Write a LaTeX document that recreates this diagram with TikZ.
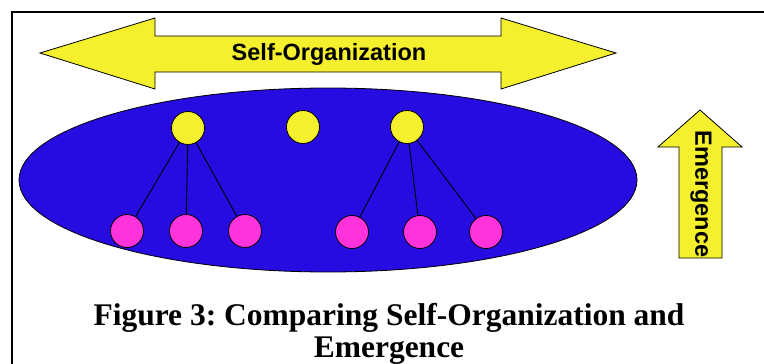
\documentclass[tikz,border=0pt]{standalone}
\usepackage{fontspec}
\setmainfont{Liberation Serif}
\newfontfamily\arrowfont{Liberation Sans}
\newfontfamily\captionfont{Liberation Serif}
\usetikzlibrary{positioning}
\frenchspacing

\definecolor{arrowyellow}{RGB}{245,240,45}
\definecolor{blobblue}{RGB}{38,12,224}
\definecolor{leafpink}{RGB}{255,50,220}

\begin{document}
\begin{tikzpicture}[x=1pt, y=-1pt]
    % Define styles
    \tikzstyle{arrowshape} = [draw=black, fill=arrowyellow, line width=0.8pt, line join=miter]
    \tikzstyle{headnode} = [circle, draw=black, fill=arrowyellow, minimum size=33pt, inner sep=0pt, line width=0.8pt]
    \tikzstyle{leafnode} = [circle, draw=black, fill=leafpink, minimum size=33pt, inner sep=0pt, line width=0.8pt]
    \tikzstyle{link} = [line width=0.9pt]
    \tikzstyle{arrowtext} = [font=\arrowfont\bfseries\fontsize{23.5}{28}\selectfont, inner sep=0pt]

    \useasboundingbox (0,0) rectangle (764,364);

    % Frame
    \draw[line width=1.8pt] (12,364) -- (12,12) -- (764,12);

    % Self-organization arrow
    \draw[arrowshape] (40,53) -- (155,18) -- (155,36) -- (501,36) -- (501,18) -- (616,53)
        -- (501,89) -- (501,72) -- (155,72) -- (155,89) -- cycle;
    \node[arrowtext] (selforg) at (329,54) {Self-Organization};

    % Emergence arrow
    \draw[arrowshape] (700,110) -- (742,147) -- (722,147) -- (722,258) -- (679,258)
        -- (679,147) -- (658,147) -- cycle;
    \node[arrowtext, rotate=-90] (emerge) at (701,194) {Emergence};

    % System
    \draw[fill=blobblue, line width=0.8pt] (328,180) ellipse [x radius=309, y radius=92];

    % Agents
    \node[headnode] (top1) at (188,128) {};
    \node[headnode] (top2) at (303,127) {};
    \node[headnode] (top3) at (407,127) {};
    \node[leafnode] (leaf1) at (127,231) {};
    \node[leafnode] (leaf2) at (186,231) {};
    \node[leafnode] (leaf3) at (245,231) {};
    \node[leafnode] (leaf4) at (352,232) {};
    \node[leafnode] (leaf5) at (420,232) {};
    \node[leafnode] (leaf6) at (486,232) {};

    % Links
    \foreach \l in {1,2,3} \draw[link] (top1) -- (leaf\l);
    \foreach \l in {4,5,6} \draw[link] (top3) -- (leaf\l);

    % Caption
    \node[align=center, font=\captionfont\bfseries\fontsize{31.5}{32}\selectfont, inner sep=0pt] (caption) at (389,334)
        {Figure 3: Comparing Self-Organization and\\Emergence};
\end{tikzpicture}
\end{document}
